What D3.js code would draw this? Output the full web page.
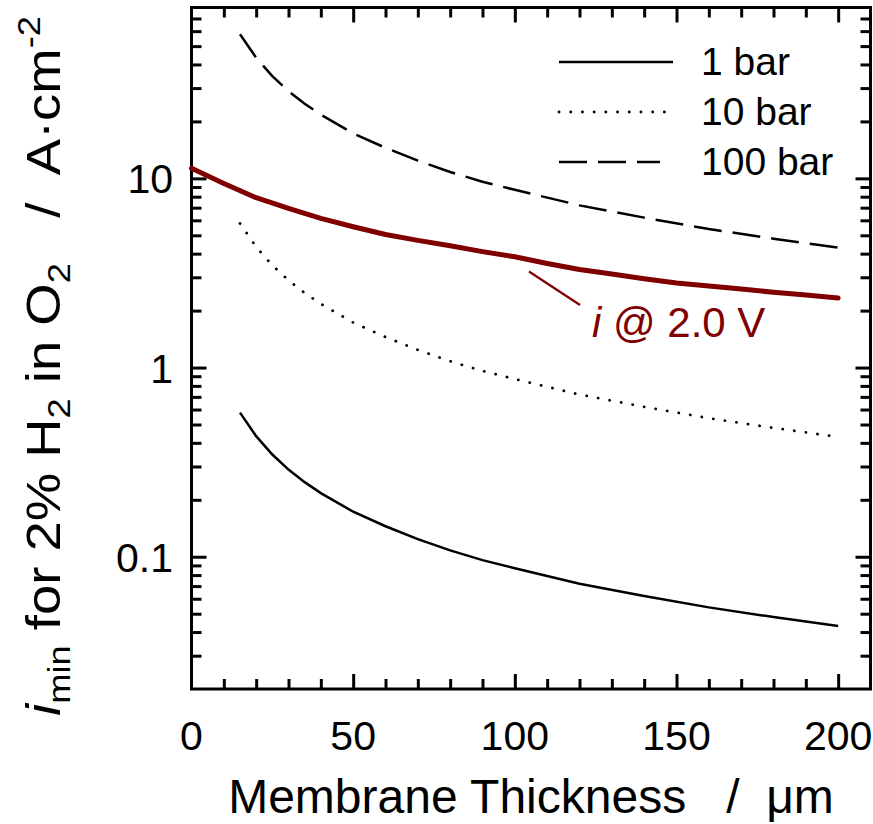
<!DOCTYPE html>
<html lang="en">
  <head>
    <meta charset="utf-8" />
    <title>Minimum current density vs membrane thickness</title>
    <script src="https://d3js.org/d3.v7.min.js"></script>
    <style>
      body { margin: 0; background: #fff; }
      svg text { font-family: "Liberation Sans", Arial, sans-serif; fill: #000; }
    </style>
  </head>
  <body>
    <div id="chart"></div>
  </body>
  <script>
    var thickness = [15, 20, 25, 30, 35, 40, 50, 60, 70, 80, 90, 100, 120, 140, 160, 180, 200];
    var bar1   = [0.578, 0.434, 0.347, 0.289, 0.248, 0.217, 0.173, 0.145, 0.124, 0.108, 0.096, 0.087, 0.072, 0.062, 0.054, 0.048, 0.043];
    var bar10  = [5.78, 4.34, 3.47, 2.89, 2.48, 2.17, 1.73, 1.45, 1.24, 1.08, 0.96, 0.87, 0.72, 0.62, 0.54, 0.48, 0.43];
    var bar100 = [57.8, 43.4, 34.7, 28.9, 24.8, 21.7, 17.3, 14.5, 12.4, 10.8, 9.6, 8.7, 7.2, 6.2, 5.4, 4.8, 4.3];

    // current density at 2.0 V
    var thicknessV = [0, 10, 20, 30, 40, 50, 60, 70, 80, 90, 100, 110, 120, 130, 140, 150, 160, 170, 180, 190, 200];
    var iAt2V = [11.3, 9.4, 7.9, 6.95, 6.15, 5.55, 5.05, 4.7, 4.4, 4.1, 3.85, 3.55, 3.3, 3.12, 2.95, 2.8, 2.7, 2.6, 2.5, 2.42, 2.33];

    var xTickValues = [0, 50, 100, 150, 200];
    var yTickValues = [0.1, 1, 10];
    var yTickLabels = ["0.1", "1", "10"];
    var legendNames = ["1 bar", "10 bar", "100 bar"];

    var width = 873,
        height = 824,
        plotLeft = 191.5,
        plotRight = 870.5,
        plotTop = 7.5,
        plotBottom = 689;

    var darkRed = "#800000";

    var svg = d3.select("#chart")
                .append("svg")
                .attr("width", width)
                .attr("height", height);

    var x = d3.scaleLinear().domain([0, 210]).range([plotLeft, plotRight]);
    var y = d3.scaleLog().domain([0.02, 80]).range([plotBottom, plotTop]);

    // minor ticks every 10 um, longer ones at the labelled values
    var xMinor = d3.range(10, 210, 10).filter(function(d) { return d % 50 != 0; });
    var xMajor = [50, 100, 150, 200];

    var yMinor = [], yMajor = [];
    [0.01, 0.1, 1, 10].forEach(function(dec) {
      for (var k = 1; k < 10; k++) {
        var v = +(dec * k).toPrecision(3);
        if (v <= 0.02 || v >= 80) continue;
        if (k == 1) yMajor.push(v); else yMinor.push(v);
      }
    });

    function tickAxis(axis, pos, values, size) {
      svg.append("g")
         .attr("transform", pos)
         .call(axis.tickValues(values).tickSize(size).tickFormat(""))
         .call(function(g) {
           g.select(".domain").remove();
           g.selectAll("line").attr("stroke", "#000").attr("stroke-width", 3);
         });
    }

    tickAxis(d3.axisBottom(x), "translate(0," + plotBottom + ")", xMinor, -10);
    tickAxis(d3.axisBottom(x), "translate(0," + plotBottom + ")", xMajor, -15);
    tickAxis(d3.axisTop(x), "translate(0," + plotTop + ")", xMinor, -10);
    tickAxis(d3.axisTop(x), "translate(0," + plotTop + ")", xMajor, -15);
    tickAxis(d3.axisLeft(y), "translate(" + plotLeft + ",0)", yMinor, -10);
    tickAxis(d3.axisLeft(y), "translate(" + plotLeft + ",0)", yMajor, -15);
    tickAxis(d3.axisRight(y), "translate(" + plotRight + ",0)", yMinor, -10);
    tickAxis(d3.axisRight(y), "translate(" + plotRight + ",0)", yMajor, -15);

    // frame
    svg.append("rect")
       .attr("x", plotLeft)
       .attr("y", plotTop)
       .attr("width", plotRight - plotLeft)
       .attr("height", plotBottom - plotTop)
       .attr("fill", "none")
       .attr("stroke", "#000")
       .attr("stroke-width", 3);

    // tick labels
    svg.selectAll("text.xlab")
       .data(xTickValues)
       .enter().append("text")
       .attr("class", "xlab")
       .attr("x", function(d) { return x(d); })
       .attr("y", 750)
       .attr("text-anchor", "middle")
       .attr("font-size", 41)
       .text(function(d) { return d; });

    svg.selectAll("text.ylab")
       .data(yTickValues)
       .enter().append("text")
       .attr("class", "ylab")
       .attr("x", 173)
       .attr("y", function(d) { return y(d) + 15; })
       .attr("text-anchor", "end")
       .attr("font-size", 41)
       .text(function(d, i) { return yTickLabels[i]; });

    // curves
    var line = d3.line()
                 .x(function(d) { return x(d[0]); })
                 .y(function(d) { return y(d[1]); });

    var series = [
      { name: legendNames[0], values: bar1, dash: null, width: 2.5 },
      { name: legendNames[1], values: bar10, dash: "0.1,11.6", width: 2.8 },
      { name: legendNames[2], values: bar100, dash: "28,11", width: 2.5 }
    ];

    svg.selectAll("path.pressure")
       .data(series)
       .enter().append("path")
       .attr("class", "pressure")
       .attr("d", function(s) { return line(d3.zip(thickness, s.values)); })
       .attr("fill", "none")
       .attr("stroke", "#000")
       .attr("stroke-width", function(s) { return s.width; })
       .attr("stroke-linecap", function(s) { return s.dash == "0.1,11.6" ? "round" : "butt"; })
       .attr("stroke-dasharray", function(s) { return s.dash; });

    svg.append("path")
       .attr("d", line(d3.zip(thicknessV, iAt2V)))
       .attr("fill", "none")
       .attr("stroke", darkRed)
       .attr("stroke-width", 5)
       .attr("stroke-linejoin", "round")
       .attr("stroke-linecap", "round");

    // legend
    var legend = svg.selectAll("g.legend")
                    .data(series)
                    .enter().append("g")
                    .attr("class", "legend")
                    .attr("transform", function(s, i) { return "translate(0," + (62 + i * 50) + ")"; });

    legend.append("line")
          .attr("x1", 559)
          .attr("x2", function(s, i) { return [673, 667, 660][i]; })
          .attr("stroke", "#000")
          .attr("stroke-width", function(s) { return s.width; })
          .attr("stroke-linecap", function(s) { return s.dash == "0.1,11.6" ? "round" : "butt"; })
          .attr("stroke-dasharray", function(s) { return s.dash; });

    legend.append("text")
          .attr("x", 701)
          .attr("y", 13)
          .attr("font-size", 39)
          .text(function(s) { return s.name; });

    // annotation for the 2.0 V curve
    svg.append("line")
       .attr("x1", 529).attr("y1", 271.5)
       .attr("x2", 580).attr("y2", 305)
       .attr("stroke", darkRed)
       .attr("stroke-width", 2.2);

    var note = svg.append("text")
                  .attr("x", 592)
                  .attr("y", 337)
                  .attr("font-size", 42)
                  .style("fill", darkRed);
    note.append("tspan").attr("font-style", "italic").text("i");
    note.append("tspan").text(" @ 2.0 V");

    // axis titles
    svg.append("text")
       .attr("x", (plotLeft + plotRight) / 2)
       .attr("y", 813)
       .attr("text-anchor", "middle")
       .attr("font-size", 48)
       .style("white-space", "pre")
       .text("Membrane Thickness   /  \u03bcm");

    var ytitle = svg.append("text")
                    .attr("text-anchor", "middle")
                    .attr("font-size", 48)
                    .style("white-space", "pre");
    ytitle.append("tspan").attr("font-style", "italic").text("i");
    ytitle.append("tspan").attr("font-size", 32).attr("dy", 10).text("min");
    ytitle.append("tspan").attr("dy", -10).text(" for 2% H");
    ytitle.append("tspan").attr("font-size", 32).attr("dy", 10).text("2");
    ytitle.append("tspan").attr("dy", -10).text(" in O");
    ytitle.append("tspan").attr("font-size", 32).attr("dy", 10).text("2");
    ytitle.append("tspan").attr("dy", -10).text("   /  A\u00b7cm");
    ytitle.append("tspan").attr("font-size", 32).attr("dy", -20).text("-2");

    // stretch the title along its length to the span seen in the figure
    var natural = ytitle.node().getComputedTextLength();
    var stretch = 700 / natural;
    ytitle.attr("transform", "translate(60,366) rotate(-90) scale(" + stretch + ",1)");
  </script>
</html>
